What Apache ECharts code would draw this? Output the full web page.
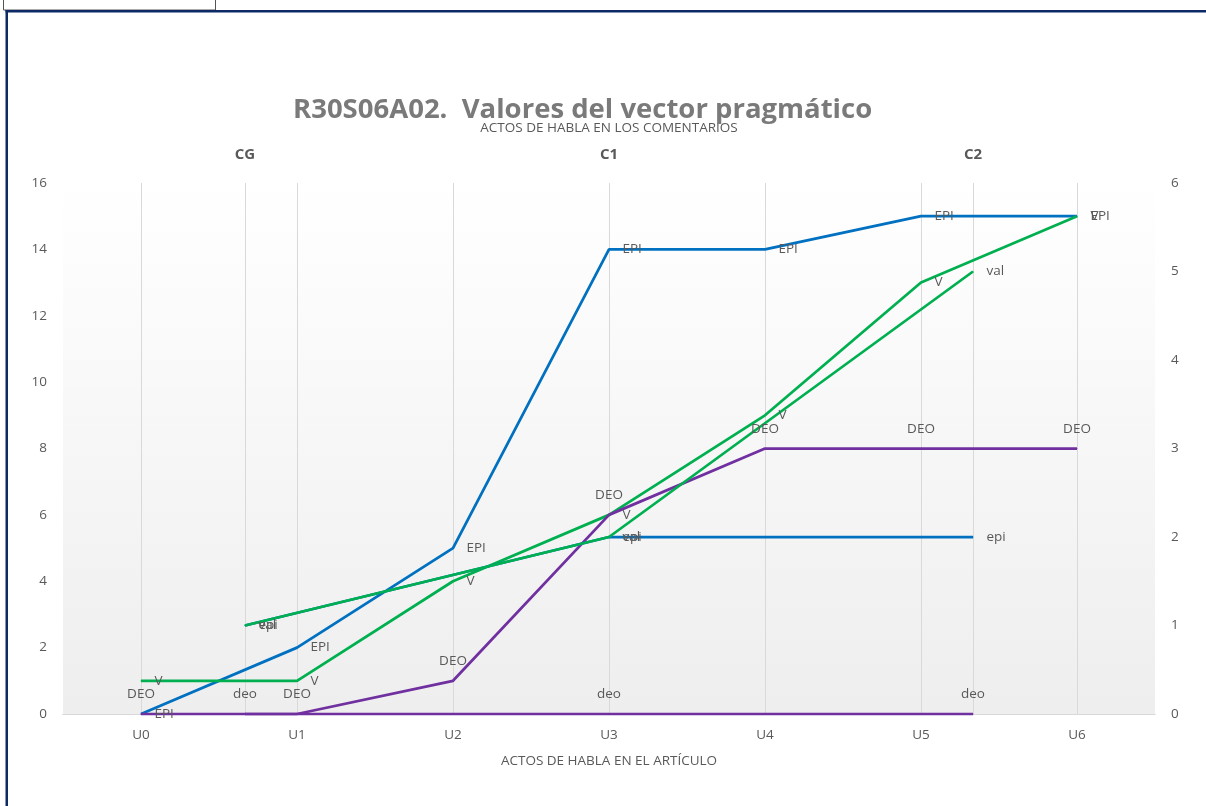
<!DOCTYPE html>
<html>
<head>
<meta charset="utf-8">
<script src="https://cdn.jsdelivr.net/npm/echarts@6/dist/echarts.min.js"></script>
<style>
  html, body { margin: 0; padding: 0; background: #ffffff; }
  #chart { width: 1206px; height: 806px; }
</style>
</head>
<body>
<div id="chart"></div>
<script>
// Speech acts in the article (bottom axis) and in the comments (top axis)
const articleActs = ['U0', 'U1', 'U2', 'U3', 'U4', 'U5', 'U6'];
const commentActs = ['CG', 'C1', 'C2'];

// Cumulative pragmatic vector values, article (left axis)
const EPI = [0, 2, 5, 14, 14, 15, 15];
const V   = [1, 1, 4, 6, 9, 13, 15];
const DEO = [0, 0, 1, 6, 8, 8, 8];

// Cumulative pragmatic vector values, comments (right axis)
const epi = [1, 2, 2];
const val = [1, 2, 5];
const deo = [0, 0, 0];

const leftTicks = { min: 0, max: 16, interval: 2 };
const rightTicks = { min: 0, max: 6, interval: 1 };

const BLUE = '#0070C0', GREEN = '#00B050', PURPLE = '#7030A0';
const TEXT = '#595959';
const LABEL_FONT = '"Open Sans", "DejaVu Sans", sans-serif';

function lineSeries(name, data, color, xIdx, yIdx, pos) {
  return {
    name: name,
    type: 'line',
    data: data,
    xAxisIndex: xIdx,
    yAxisIndex: yIdx,
    symbol: 'circle',
    symbolSize: 1,
    showSymbol: true,
    animation: false,
    lineStyle: { color: color, width: 2.75 },
    itemStyle: { color: color },
    label: {
      show: true,
      position: pos,
      distance: pos === 'top' ? 12 : 13,
      formatter: '{a}',
      color: TEXT,
      fontFamily: LABEL_FONT,
      fontSize: 13.5
    },
    emphasis: { disabled: true }
  };
}

const chart = echarts.init(document.getElementById('chart'));
chart.setOption({
  animation: false,
  backgroundColor: '#ffffff',
  title: {
    text: 'R30S06A02.  Valores del vector pragmático',
    left: 288,
    top: 91,
    textStyle: {
      fontFamily: LABEL_FONT,
      fontWeight: 'bold',
      fontSize: 27.5,
      color: '#7a7a7a'
    }
  },
  grid: {
    left: 63,
    right: 51,
    top: 183,
    bottom: 92,
    show: true,
    borderWidth: 0,
    backgroundColor: {
      type: 'linear', x: 0, y: 0, x2: 0, y2: 1,
      colorStops: [
        { offset: 0, color: '#ffffff' },
        { offset: 1, color: '#eeeeee' }
      ]
    }
  },
  xAxis: [
    {
      type: 'category',
      data: articleActs,
      position: 'bottom',
      boundaryGap: true,
      name: 'ACTOS DE HABLA EN EL ARTÍCULO',
      nameLocation: 'middle',
      nameGap: 40,
      nameTextStyle: { color: TEXT, fontFamily: LABEL_FONT, fontSize: 13.5 },
      axisLine: { show: true, lineStyle: { color: '#d9d9d9', width: 1 } },
      axisTick: { show: false },
      axisLabel: { color: TEXT, fontFamily: LABEL_FONT, fontSize: 13.5, margin: 14 },
      splitLine: { show: true, alignWithLabel: true, interval: 0, lineStyle: { color: '#d9d9d9', width: 1 } }
    },
    {
      type: 'category',
      data: commentActs,
      position: 'top',
      boundaryGap: true,
      name: 'ACTOS DE HABLA EN LOS COMENTARIOS',
      nameLocation: 'middle',
      nameGap: 48,
      nameTextStyle: { color: TEXT, fontFamily: LABEL_FONT, fontSize: 13.5 },
      axisLine: { show: true, lineStyle: { color: '#d9d9d9', width: 1 } },
      axisTick: { show: false },
      axisLabel: { color: TEXT, fontFamily: LABEL_FONT, fontSize: 15, fontWeight: 'bold', margin: 21 },
      splitLine: { show: true, alignWithLabel: true, interval: 0, lineStyle: { color: '#d9d9d9', width: 1 } }
    }
  ],
  yAxis: [
    {
      type: 'value',
      position: 'left',
      min: leftTicks.min,
      max: leftTicks.max,
      interval: leftTicks.interval,
      axisLine: { show: false },
      axisTick: { show: false },
      splitLine: { show: false },
      axisLabel: { color: TEXT, fontFamily: LABEL_FONT, fontSize: 13.5, margin: 16 }
    },
    {
      type: 'value',
      position: 'right',
      min: rightTicks.min,
      max: rightTicks.max,
      interval: rightTicks.interval,
      axisLine: { show: false },
      axisTick: { show: false },
      splitLine: { show: false },
      axisLabel: { color: TEXT, fontFamily: LABEL_FONT, fontSize: 13.5, margin: 16 }
    }
  ],
  series: [
    lineSeries('EPI', EPI, BLUE, 0, 0, 'right'),
    lineSeries('V', V, GREEN, 0, 0, 'right'),
    lineSeries('DEO', DEO, PURPLE, 0, 0, 'top'),
    lineSeries('epi', epi, BLUE, 1, 1, 'right'),
    lineSeries('val', val, GREEN, 1, 1, 'right'),
    lineSeries('deo', deo, PURPLE, 1, 1, 'top')
  ],
  graphic: [
    // small cell box in the upper-left corner
    { type: 'rect', shape: { x: 3.5, y: -1, width: 212, height: 11 },
      style: { fill: '#ffffff', stroke: '#555555', lineWidth: 1 }, silent: true },
    // frame: top and left edges
    { type: 'rect', shape: { x: 5.5, y: 10, width: 1201, height: 2.5 },
      style: { fill: '#0d2a66' }, silent: true },
    { type: 'rect', shape: { x: 5.5, y: 10, width: 2.5, height: 796 },
      style: { fill: '#0d2a66' }, silent: true }
  ]
});
</script>
</body>
</html>
